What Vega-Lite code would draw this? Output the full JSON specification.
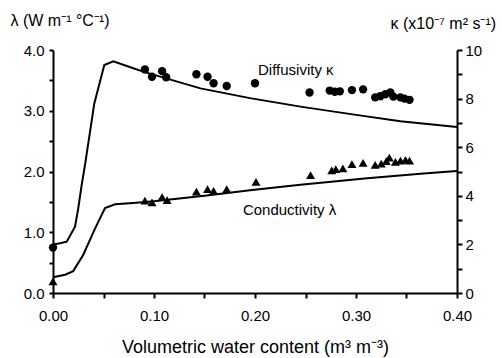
{
  "$schema": "https://vega.github.io/schema/vega-lite/v6.json",
  "width": 404,
  "height": 243,
  "autosize": {"type": "none"},
  "padding": {"left": 53, "top": 50, "right": 45, "bottom": 65},
  "background": "white",
  "config": {
    "view": {"stroke": null},
    "font": "Liberation Sans",
    "axis": {
      "grid": false,
      "domainColor": "black",
      "domainWidth": 2,
      "tickColor": "black",
      "tickWidth": 2,
      "labelColor": "black",
      "titleColor": "black",
      "labelFont": "Liberation Sans",
      "titleFont": "Liberation Sans",
      "labelFontSize": 15,
      "titleFontSize": 16,
      "titleFontWeight": "normal"
    }
  },
  "datasets": {
    "lamLine": [
      {"x": 0, "y": 0.26}, {"x": 0.012, "y": 0.3}, {"x": 0.02, "y": 0.36}, {"x": 0.03, "y": 0.63},
      {"x": 0.0416, "y": 1.06}, {"x": 0.0515, "y": 1.4}, {"x": 0.0614, "y": 1.46}, {"x": 0.0795, "y": 1.48},
      {"x": 0.1, "y": 1.51}, {"x": 0.15, "y": 1.6}, {"x": 0.195, "y": 1.69}, {"x": 0.245, "y": 1.78},
      {"x": 0.311, "y": 1.89}, {"x": 0.37, "y": 1.97}, {"x": 0.4, "y": 2.01}
    ],
    "lamPts": [
      {"x": 0, "y": 0.19},
      {"x": 0.091, "y": 1.52}, {"x": 0.098, "y": 1.49}, {"x": 0.108, "y": 1.58}, {"x": 0.113, "y": 1.53},
      {"x": 0.142, "y": 1.67}, {"x": 0.153, "y": 1.71}, {"x": 0.159, "y": 1.68}, {"x": 0.172, "y": 1.71},
      {"x": 0.201, "y": 1.83}, {"x": 0.255, "y": 1.94}, {"x": 0.276, "y": 2.02}, {"x": 0.28, "y": 2.04},
      {"x": 0.287, "y": 2.05}, {"x": 0.296, "y": 2.12}, {"x": 0.307, "y": 2.14}, {"x": 0.319, "y": 2.11},
      {"x": 0.325, "y": 2.13}, {"x": 0.33, "y": 2.17}, {"x": 0.333, "y": 2.23}, {"x": 0.339, "y": 2.16},
      {"x": 0.344, "y": 2.18}, {"x": 0.349, "y": 2.19}, {"x": 0.353, "y": 2.18}
    ],
    "kapLine": [
      {"x": 0, "y": 2.0}, {"x": 0.007, "y": 2.05}, {"x": 0.0136, "y": 2.11}, {"x": 0.0218, "y": 2.73},
      {"x": 0.025, "y": 3.48}, {"x": 0.0284, "y": 4.45}, {"x": 0.0317, "y": 5.27}, {"x": 0.0409, "y": 7.8},
      {"x": 0.0508, "y": 9.38}, {"x": 0.0597, "y": 9.53}, {"x": 0.0795, "y": 9.25}, {"x": 0.09, "y": 9.1},
      {"x": 0.146, "y": 8.42}, {"x": 0.195, "y": 8.02}, {"x": 0.245, "y": 7.67}, {"x": 0.3, "y": 7.33},
      {"x": 0.344, "y": 7.07}, {"x": 0.4, "y": 6.83}
    ],
    "kapPts": [
      {"x": 0, "y": 1.87},
      {"x": 0.091, "y": 9.2}, {"x": 0.098, "y": 8.9}, {"x": 0.108, "y": 9.13}, {"x": 0.112, "y": 8.88},
      {"x": 0.142, "y": 9.0}, {"x": 0.153, "y": 8.9}, {"x": 0.159, "y": 8.63}, {"x": 0.172, "y": 8.52},
      {"x": 0.2, "y": 8.63}, {"x": 0.254, "y": 8.25}, {"x": 0.274, "y": 8.33}, {"x": 0.279, "y": 8.28},
      {"x": 0.284, "y": 8.3}, {"x": 0.296, "y": 8.35}, {"x": 0.307, "y": 8.38}, {"x": 0.319, "y": 8.05},
      {"x": 0.324, "y": 8.1}, {"x": 0.329, "y": 8.18}, {"x": 0.334, "y": 8.25}, {"x": 0.337, "y": 8.08},
      {"x": 0.344, "y": 8.05}, {"x": 0.348, "y": 8.0}, {"x": 0.353, "y": 7.95}
    ]
  },
  "encoding": {
    "x": {
      "field": "x",
      "type": "quantitative",
      "scale": {"domain": [0, 0.4], "nice": false, "zero": false},
      "axis": {
        "values": [0, 0.05, 0.1, 0.15, 0.2, 0.25, 0.3, 0.35, 0.4],
        "labelExpr": "round(datum.value*100) % 10 == 0 ? format(datum.value, '.2f') : ''",
        "tickSize": 5,
        "labelPadding": 10,
        "labelFlush": false,
        "labelOverlap": false,
        "title": "Volumetric water content (m³ m⁻³)",
        "titleFontSize": 18,
        "titleBaseline": "middle",
        "titleY": 54
      }
    }
  },
  "layer": [
    {
      "encoding": {
        "y": {
          "field": "y",
          "type": "quantitative",
          "scale": {"domain": [0, 4], "nice": false},
          "axis": {
            "orient": "left",
            "values": [0, 0.5, 1, 1.5, 2, 2.5, 3, 3.5, 4],
            "labelExpr": "datum.value % 1 == 0 ? format(datum.value, '.1f') : ''",
            "tickSize": 4,
            "labelPadding": 5,
            "labelFlush": false,
            "labelOverlap": false,
            "title": "λ (W m⁻¹ °C⁻¹)",
            "titleAngle": 0,
            "titleAlign": "left",
            "titleBaseline": "middle",
            "titleX": -43,
            "titleY": -30
          }
        }
      },
      "layer": [
        {
          "data": {"name": "lamLine"},
          "mark": {"type": "line", "color": "black", "strokeWidth": 2}
        },
        {
          "data": {"name": "lamPts"},
          "mark": {"type": "point", "shape": "triangle-up", "filled": true, "color": "black", "opacity": 1, "size": 80}
        },
        {
          "data": {"values": [{"x": 0.188, "y": 1.37, "label": "Conductivity λ"}]},
          "mark": {"type": "text", "align": "left", "baseline": "middle", "fontSize": 15, "color": "black", "font": "Liberation Sans"},
          "encoding": {"text": {"field": "label"}}
        }
      ]
    },
    {
      "encoding": {
        "y": {
          "field": "y",
          "type": "quantitative",
          "scale": {"domain": [0, 10], "nice": false},
          "axis": {
            "orient": "right",
            "values": [0, 1, 2, 3, 4, 5, 6, 7, 8, 9, 10],
            "labelExpr": "datum.value % 2 == 0 ? datum.label : ''",
            "tickSize": 5,
            "labelPadding": 3,
            "labelFlush": false,
            "labelOverlap": false,
            "title": "κ (x10⁻⁷ m² s⁻¹)",
            "titleAngle": 0,
            "titleAlign": "left",
            "titleBaseline": "middle",
            "titleX": -67,
            "titleY": -27
          }
        }
      },
      "layer": [
        {
          "data": {"name": "kapLine"},
          "mark": {"type": "line", "color": "black", "strokeWidth": 2}
        },
        {
          "data": {"name": "kapPts"},
          "mark": {"type": "point", "shape": "circle", "filled": true, "color": "black", "opacity": 1, "size": 70}
        },
        {
          "data": {"values": [{"x": 0.203, "y": 9.18, "label": "Diffusivity κ"}]},
          "mark": {"type": "text", "align": "left", "baseline": "middle", "fontSize": 15, "color": "black", "font": "Liberation Sans"},
          "encoding": {"text": {"field": "label"}}
        }
      ]
    }
  ],
  "resolve": {"scale": {"y": "independent"}}
}
